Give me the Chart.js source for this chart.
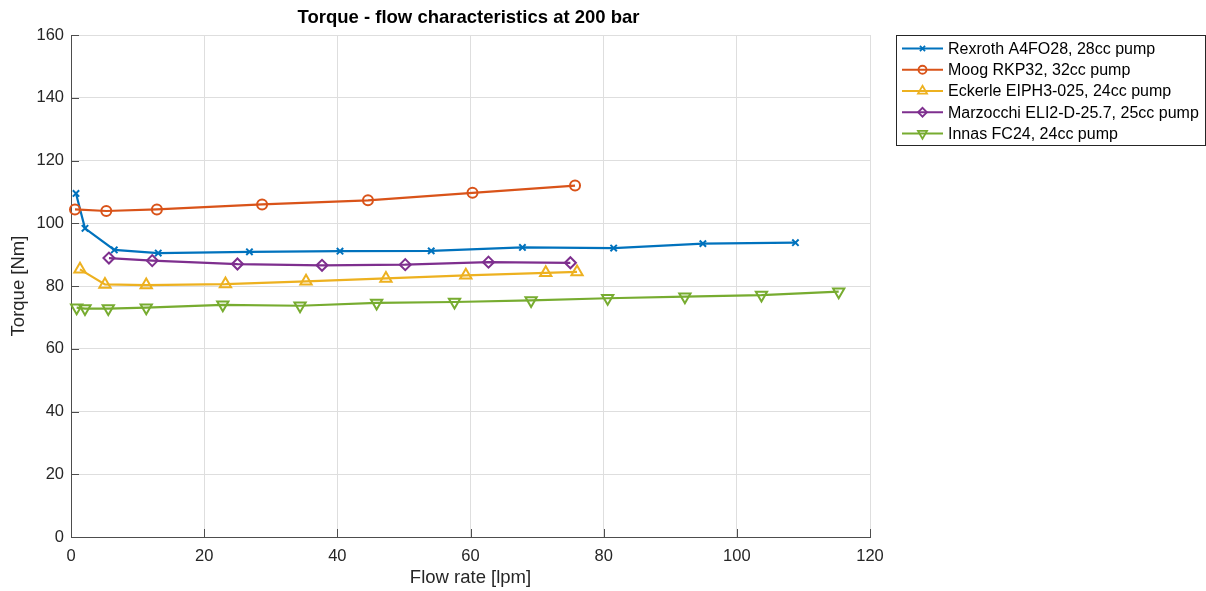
<!DOCTYPE html>
<html>
<head>
<meta charset="utf-8">
<script src="https://cdn.jsdelivr.net/npm/chart.js@4/dist/chart.umd.min.js"></script>
<style>
  html, body { margin: 0; padding: 0; background: #fff; }
  #wrap { width: 1206px; height: 591px; position: relative; }
</style>
</head>
<body>
<div id="wrap"><canvas id="myChart"></canvas></div>
<script>
// data (flow rate in lpm, torque in Nm)
const seriesNames = [
    "Rexroth A4FO28, 28cc pump",
    "Moog RKP32, 32cc pump",
    "Eckerle EIPH3-025, 24cc pump",
    "Marzocchi ELI2-D-25.7, 25cc pump",
    "Innas FC24, 24cc pump"
];

const rexrothFlow = [0.75, 2.1, 6.5, 13.1, 26.8, 40.4, 54.1, 67.8, 81.5, 94.9, 108.8];
const rexrothTorque = [109.5, 98.4, 91.5, 90.5, 90.9, 91.1, 91.2, 92.3, 92.1, 93.5, 93.8];

const moogFlow = [0.6, 5.3, 12.9, 28.7, 44.6, 60.3, 75.7];
const moogTorque = [104.4, 103.9, 104.4, 106.0, 107.3, 109.7, 112.0];

const eckerleFlow = [1.35, 5.1, 11.3, 23.2, 35.3, 47.3, 59.3, 71.3, 76.0];
const eckerleTorque = [85.3, 80.5, 80.3, 80.6, 81.5, 82.4, 83.4, 84.2, 84.5];

const marzocchiFlow = [5.7, 12.2, 25.0, 37.7, 50.2, 62.7, 75.0];
const marzocchiTorque = [88.9, 88.1, 87.0, 86.6, 86.8, 87.6, 87.4];

const innasFlow = [0.85, 2.1, 5.6, 11.3, 22.8, 34.4, 45.9, 57.6, 69.1, 80.6, 92.2, 103.7, 115.3];
const innasTorque = [73.1, 72.8, 72.8, 73.1, 74.0, 73.7, 74.6, 74.9, 75.4, 76.1, 76.6, 77.1, 78.2];

const xTicks = [0, 20, 40, 60, 80, 100, 120];
const yTicks = [0, 20, 40, 60, 80, 100, 120, 140, 160];

const seriesColors = ["#0072BD", "#D95319", "#EDB120", "#7E2F8E", "#77AC30"];
const markerStyles = [
    { style: "crossRot", radius: 4.5, rotation: 0 },
    { style: "circle", radius: 5, rotation: 0 },
    { style: "triangle", radius: 6.5, rotation: 0 },
    { style: "rectRot", radius: 5.5, rotation: 0 },
    { style: "triangle", radius: 6.5, rotation: 180 }
];

function toPoints(xs, ys) {
    return xs.map((x, i) => ({ x: x, y: ys[i] }));
}

const allSeries = [
    toPoints(rexrothFlow, rexrothTorque),
    toPoints(moogFlow, moogTorque),
    toPoints(eckerleFlow, eckerleTorque),
    toPoints(marzocchiFlow, marzocchiTorque),
    toPoints(innasFlow, innasTorque)
];

const fontFamily = "'Liberation Sans', Arial, Helvetica, sans-serif";
const axisColor = "#4d4d4d";

const datasets = allSeries.map((pts, i) => ({
    label: seriesNames[i],
    data: pts,
    showLine: true,
    borderColor: seriesColors[i],
    backgroundColor: seriesColors[i],
    borderWidth: 2.2,
    pointStyle: markerStyles[i].style,
    pointRadius: markerStyles[i].radius,
    pointRotation: markerStyles[i].rotation,
    pointBorderWidth: 2,
    pointBorderColor: seriesColors[i],
    pointBackgroundColor: "rgba(0,0,0,0)",
    pointHoverRadius: markerStyles[i].radius,
    order: allSeries.length - i,
    clip: false,
    tension: 0
}));

// title, inward tick marks and the boxed legend, drawn the way the original figure has them
const figureExtras = {
    id: "figureExtras",
    afterDraw(chart) {
        const ctx = chart.ctx;
        const area = chart.chartArea;
        const xs = chart.scales.x;
        const ys = chart.scales.y;
        ctx.save();

        // inward ticks
        ctx.strokeStyle = axisColor;
        ctx.lineWidth = 1;
        ctx.beginPath();
        xTicks.forEach(v => {
            const px = Math.round(xs.getPixelForValue(v)) + 0.5;
            ctx.moveTo(px, area.bottom);
            ctx.lineTo(px, area.bottom - 8);
        });
        yTicks.forEach(v => {
            const py = Math.round(ys.getPixelForValue(v)) + 0.5;
            ctx.moveTo(area.left, py);
            ctx.lineTo(area.left + 8, py);
        });
        ctx.stroke();

        // title
        ctx.fillStyle = "#000";
        ctx.font = "bold 18.5px " + fontFamily;
        ctx.textAlign = "center";
        ctx.textBaseline = "middle";
        ctx.fillText("Torque - flow characteristics at 200 bar", (area.left + area.right) / 2 - 2, 18);

        // legend
        const boxLeft = 896.5, boxTop = 35.5, boxRight = 1205.5, boxBottom = 145.5;
        ctx.fillStyle = "#fff";
        ctx.fillRect(boxLeft, boxTop, boxRight - boxLeft, boxBottom - boxTop);
        ctx.strokeStyle = "#262626";
        ctx.lineWidth = 1;
        ctx.strokeRect(boxLeft, boxTop, boxRight - boxLeft, boxBottom - boxTop);

        ctx.font = "16px " + fontFamily;
        ctx.textAlign = "left";
        seriesNames.forEach((name, i) => {
            const rowY = 48.5 + i * 21.25;
            ctx.strokeStyle = seriesColors[i];
            ctx.lineWidth = 2.2;
            ctx.beginPath();
            ctx.moveTo(902, rowY);
            ctx.lineTo(943, rowY);
            ctx.stroke();

            ctx.fillStyle = "rgba(0,0,0,0)";
            ctx.lineWidth = 1.8;
            if (Chart.helpers && Chart.helpers.drawPoint) {
                Chart.helpers.drawPoint(ctx, {
                    pointStyle: markerStyles[i].style,
                    radius: markerStyles[i].radius * 0.8,
                    rotation: markerStyles[i].rotation,
                    borderWidth: 1.8
                }, 922.5, rowY);
            } else {
                ctx.beginPath();
                ctx.arc(922.5, rowY, 4, 0, Math.PI * 2);
                ctx.stroke();
            }

            ctx.fillStyle = "#000";
            ctx.fillText(name, 948, rowY + 1);
        });

        ctx.restore();
    }
};

const myChart = new Chart("myChart", {
    type: "scatter",
    data: { datasets: datasets },
    options: {
        responsive: true,
        maintainAspectRatio: false,
        animation: false,
        events: [],
        layout: { padding: { top: 35, right: 336, left: 0, bottom: 0 } },
        plugins: {
            legend: { display: false },
            title: { display: false },
            tooltip: { enabled: false }
        },
        scales: {
            x: {
                type: "linear",
                min: 0,
                max: 120,
                afterFit(scale) { scale.height = 54; },
                afterBuildTicks(scale) { scale.ticks = xTicks.map(v => ({ value: v })); },
                grid: { color: "#dedede", lineWidth: 1, drawTicks: false },
                border: { display: true, color: axisColor, width: 1 },
                ticks: {
                    color: "#262626",
                    padding: 10,
                    font: { family: fontFamily, size: 16.5 },
                    maxRotation: 0
                },
                title: {
                    display: true,
                    text: "Flow rate [lpm]",
                    color: "#262626",
                    font: { family: fontFamily, size: 18.5 },
                    padding: { top: 0, bottom: 2 }
                }
            },
            y: {
                type: "linear",
                min: 0,
                max: 160,
                afterFit(scale) { scale.width = 71; },
                afterBuildTicks(scale) { scale.ticks = yTicks.map(v => ({ value: v })); },
                grid: { color: "#dedede", lineWidth: 1, drawTicks: false },
                border: { display: true, color: axisColor, width: 1 },
                ticks: {
                    color: "#262626",
                    padding: 7,
                    font: { family: fontFamily, size: 16.5 }
                },
                title: {
                    display: true,
                    text: "Torque [Nm]",
                    color: "#262626",
                    font: { family: fontFamily, size: 18.5 },
                    padding: { top: 8, bottom: 0 }
                }
            }
        }
    },
    plugins: [figureExtras]
});
</script>
</body>
</html>
